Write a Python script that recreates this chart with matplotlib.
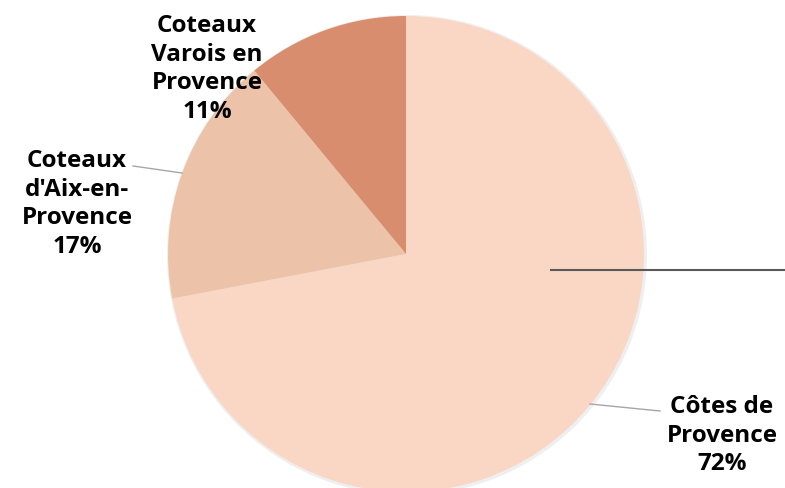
import matplotlib.pyplot as plt
import numpy as np

categories = ["Côtes de\nProvence", "Coteaux\nd'Aix-en-\nProvence", "Coteaux\nVarois en\nProvence"]
values = [72, 17, 11]
colors = ["#FAD7C5", "#ECC3A9", "#D98D6F"]

W, H = 785, 489
fig = plt.figure(figsize=(W/100, H/100), dpi=100)
ax = fig.add_axes([0, 0, 1, 1])

cx, cy, r = 406, H - 255, 238
# subtle shadow
ax.pie([1], radius=r + 2, center=(cx + 1, cy - 1), colors=["#efefef"],
       wedgeprops=dict(linewidth=0), frame=True)
ax.pie(values, radius=r, center=(cx, cy), colors=colors, startangle=90,
       counterclock=False, wedgeprops=dict(linewidth=0), frame=True)
ax.set_xlim(0, W)
ax.set_ylim(0, H)
ax.set_aspect('equal')
ax.axis('off')

font = dict(family=['Open Sans', 'DejaVu Sans'], fontweight='bold', fontsize=17.5,
            color='black', ha='center', va='center', linespacing=1.25)

label_pos = [(722, 436), (77, 204), (207, 69)]
for cat, v, (x, y) in zip(categories, values, label_pos):
    ax.text(x, H - y, f"{cat}\n{v}%", **font)

# leader lines
ax.plot([133, 182], [H - 167, H - 174], color="#a6a6a6", lw=1)
ax.plot([590, 660], [H - 405, H - 412], color="#a6a6a6", lw=1)
# horizontal dark line
ax.plot([551, 785], [H - 271, H - 271], color="#595959", lw=1.5)

fig.savefig("out.png", dpi=100)
